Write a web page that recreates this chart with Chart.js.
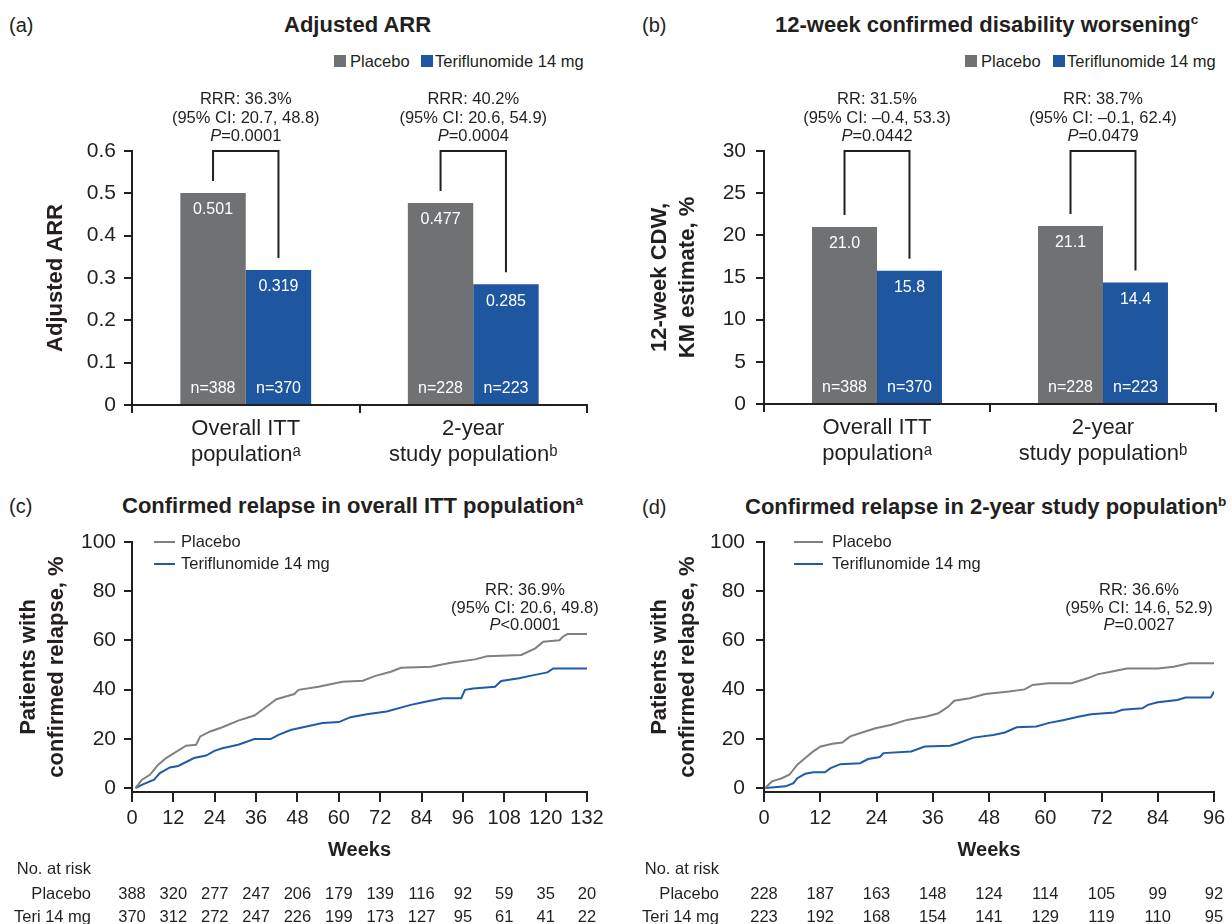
<!DOCTYPE html>
<html><head><meta charset="utf-8"><title>Teriflunomide efficacy outcomes</title>
<script src="https://cdn.jsdelivr.net/npm/chart.js@4.4.1/dist/chart.umd.min.js"></script>
<style>
html,body{margin:0;padding:0;background:#fff}
body{position:relative;width:1232px;height:924px;overflow:hidden;font-family:"Liberation Sans",Arial,Helvetica,sans-serif;color:#231f20}
canvas{position:absolute}
.txt{position:absolute;white-space:nowrap}
.pl{font-size:20px;line-height:28px}
.ttl{font-size:22px;font-weight:bold;line-height:28px}
.lg{font-size:16.5px;line-height:20px}
.sq{position:absolute;width:12px;height:12px}
sup{font-size:62%;vertical-align:0;position:relative;top:-0.6em}
</style></head>
<body>
<div class="txt pl" style="left:9px;top:11px">(a)</div>
<div class="txt ttl" style="left:284px;top:11px">Adjusted ARR</div>
<div class="sq" style="left:334px;top:55px;background:#707173"></div>
<div class="txt lg" style="left:350px;top:51px">Placebo</div>
<div class="sq" style="left:421px;top:55px;background:#1f56a0"></div>
<div class="txt lg" style="left:435px;top:51px">Teriflunomide 14 mg</div>

<div class="txt pl" style="left:642px;top:11px">(b)</div>
<div class="txt ttl" style="left:775px;top:11px">12-week confirmed disability worsening<sup>c</sup></div>
<div class="sq" style="left:965px;top:55px;background:#707173"></div>
<div class="txt lg" style="left:981px;top:51px">Placebo</div>
<div class="sq" style="left:1053px;top:55px;background:#1f56a0"></div>
<div class="txt lg" style="left:1067px;top:51px">Teriflunomide 14 mg</div>

<div class="txt pl" style="left:9px;top:492px">(c)</div>
<div class="txt ttl" style="left:122px;top:492px">Confirmed relapse in overall ITT population<sup>a</sup></div>
<div class="txt pl" style="left:642px;top:493px">(d)</div>
<div class="txt ttl" style="left:745px;top:493px">Confirmed relapse in 2-year study population<sup>b</sup></div>

<canvas id="cA" width="616" height="470" style="left:0;top:0"></canvas>
<canvas id="cB" width="616" height="470" style="left:616px;top:0"></canvas>
<canvas id="cC" width="616" height="454" style="left:0;top:470px"></canvas>
<canvas id="cD" width="616" height="454" style="left:616px;top:470px"></canvas>

<script>
// ---------------- data ----------------
const treatmentNames = ['Placebo', 'Teriflunomide 14 mg'];
const barGroups = [['Overall ITT', 'population\u1d43'], ['2-year', 'study population\u1d47']];
const nPlacebo = [388, 228];
const nTeri = [370, 223];

const arrPlacebo = [0.501, 0.477];
const arrTeri = [0.319, 0.285];
const arrTicks = [0, 0.1, 0.2, 0.3, 0.4, 0.5, 0.6];
const arrStats = [
  ['RRR: 36.3%', '(95% CI: 20.7, 48.8)', '=0.0001'],
  ['RRR: 40.2%', '(95% CI: 20.6, 54.9)', '=0.0004']
];

const cdwPlacebo = [21.0, 21.1];
const cdwTeri = [15.8, 14.4];
const cdwTicks = [0, 5, 10, 15, 20, 25, 30];
const cdwStats = [
  ['RR: 31.5%', '(95% CI: \u20130.4, 53.3)', '=0.0442'],
  ['RR: 38.7%', '(95% CI: \u20130.1, 62.4)', '=0.0479']
];

const pctTicks = [0, 20, 40, 60, 80, 100];

// (c) overall ITT population
const ittWeekTicks = [0, 12, 24, 36, 48, 60, 72, 84, 96, 108, 120, 132];
const ittPlaceboWeeks = [1, 2.9, 5.2, 7.6, 9.9, 12.2, 15.7, 18.6, 19.8, 22.7, 26.2, 30.8, 35.5, 37.8, 41.9, 47.1, 48.3, 54.1, 61.1, 67, 70.4, 75.1, 78, 86.7, 92.5, 99.5, 103, 112.9, 117, 119.3, 124, 125, 126.3, 132];
const ittPlaceboPct = [0, 3.4, 5.4, 9.5, 12.2, 14.2, 17.2, 17.6, 21, 23, 24.7, 27.4, 29.5, 31.8, 36.1, 38.2, 39.9, 41.2, 43.2, 43.6, 45.5, 47.3, 48.9, 49.3, 50.9, 52.3, 53.6, 54.1, 56.8, 59.5, 60.1, 61.5, 62.6, 62.6];
const ittTeriWeeks = [1, 3, 6.4, 8.1, 11, 13.4, 18, 21.5, 23.9, 26.2, 30.8, 35.5, 40.2, 42.5, 46, 50.6, 55.3, 60, 63.4, 68.1, 73.9, 80.9, 84.4, 90.2, 95.5, 96.6, 99, 105.3, 107.1, 112.3, 115.8, 120.5, 122.2, 132];
const ittTeriPct = [0, 1.4, 3.4, 6.1, 8.4, 9, 12.2, 13.2, 15.1, 16.2, 17.6, 19.9, 19.9, 21.6, 23.6, 25, 26.4, 26.8, 28.8, 30, 31.1, 33.8, 34.9, 36.5, 36.5, 39.9, 40.5, 41.2, 43.5, 44.6, 45.7, 47, 48.6, 48.6];
const ittRiskPlacebo = [388, 320, 277, 247, 206, 179, 139, 116, 92, 59, 35, 20];
const ittRiskTeri = [370, 312, 272, 247, 226, 199, 173, 127, 95, 61, 41, 22];
const ittStats = ['RR: 36.9%', '(95% CI: 20.6, 49.8)', '<0.0001'];

// (d) 2-year study population
const twoWeekTicks = [0, 12, 24, 36, 48, 60, 72, 84, 96];
const twoPlaceboWeeks = [0.25, 1.7, 3.8, 5.4, 7.1, 8.8, 10.5, 12.1, 14.6, 16.7, 18.4, 20.9, 23.8, 27.2, 30.5, 34.7, 37.2, 39.3, 40.6, 43.9, 47.2, 52.3, 55.6, 57.3, 60.6, 65.6, 69, 71.1, 74, 77.4, 84, 87.4, 90.7, 96];
const twoPlaceboPct = [0, 2.7, 4, 5.4, 9.5, 12.2, 14.9, 16.9, 18, 18.5, 21, 22.6, 24.3, 25.7, 27.7, 29.1, 30.4, 33.1, 35.5, 36.5, 38.2, 39.2, 40.1, 41.9, 42.6, 42.6, 44.6, 46.2, 47.3, 48.6, 48.6, 49.3, 50.7, 50.7];
const twoTeriWeeks = [0.25, 4.6, 6.3, 7.1, 8.8, 10.5, 13, 14.2, 16.3, 20.5, 22.2, 24.7, 25.5, 31.4, 34.3, 39.7, 41.4, 44.7, 48.9, 51.4, 53.9, 58.1, 60.6, 64, 67.3, 69.8, 74.8, 76.5, 80.7, 81.9, 84, 88.2, 89.9, 95.3, 96];
const twoTeriPct = [0, 0.7, 2, 4, 5.8, 6.4, 6.4, 8.1, 9.7, 10.1, 11.8, 12.6, 14.2, 14.9, 16.9, 17.2, 18.2, 20.5, 21.6, 22.6, 24.7, 25, 26.4, 27.7, 29.1, 30, 30.7, 31.8, 32.4, 33.8, 34.9, 35.8, 36.8, 36.8, 39.2];
const twoRiskPlacebo = [228, 187, 163, 148, 124, 114, 105, 99, 92];
const twoRiskTeri = [223, 192, 168, 154, 141, 129, 119, 110, 95];
const twoStats = ['RR: 36.6%', '(95% CI: 14.6, 52.9)', '=0.0027'];

const riskRowNames = ['Placebo', 'Teri 14 mg'];

// ---------------- styling ----------------
const FF = '"Liberation Sans", Arial, Helvetica, sans-serif';
const AX = '#231f20';
const BAR_PLA = '#707173', BAR_TERI = '#1f56a0';
const LINE_PLA = '#808080', LINE_TERI = '#1f5aab';
Chart.defaults.font.family = FF;
Chart.defaults.color = AX;

function drawP(ctx, rest, cx, y, size) {
  ctx.save();
  const fi = 'italic ' + size + 'px ' + FF, fn = size + 'px ' + FF;
  ctx.font = fi; const wp = ctx.measureText('P').width;
  ctx.font = fn; const wr = ctx.measureText(rest).width;
  const x0 = cx - (wp + wr) / 2;
  ctx.textAlign = 'left';
  ctx.font = fi; ctx.fillText('P', x0, y);
  ctx.font = fn; ctx.fillText(rest, x0 + wp, y);
  ctx.restore();
}

const barDecor = {
  id: 'barDecor',
  afterDatasetsDraw(chart, args, o) {
    const ctx = chart.ctx, y = chart.scales.y;
    const metas = [chart.getDatasetMeta(0), chart.getDatasetMeta(1)];
    ctx.save();
    ctx.textAlign = 'center'; ctx.textBaseline = 'middle';
    ctx.fillStyle = '#ffffff';
    ctx.font = '16px ' + FF;
    metas.forEach((m, di) => {
      const ds = chart.data.datasets[di];
      m.data.forEach((bar, i) => {
        ctx.fillText(o.fmt(ds.data[i]), bar.x, bar.y + 17);
        ctx.fillText('n=' + ds.n[i], bar.x, bar.base - 15);
      });
    });
    const top = y.getPixelForValue(y.max);
    ctx.strokeStyle = AX; ctx.lineWidth = 2; ctx.lineJoin = 'miter';
    ctx.fillStyle = AX; ctx.font = '16.5px ' + FF;
    metas[0].data.forEach((b0, i) => {
      const b1 = metas[1].data[i];
      ctx.beginPath();
      ctx.moveTo(b0.x, b0.y - 12);
      ctx.lineTo(b0.x, top);
      ctx.lineTo(b1.x, top);
      ctx.lineTo(b1.x, b1.y - 12);
      ctx.stroke();
      const cx = (b0.x + b1.x) / 2;
      ctx.fillText(o.stats[i][0], cx, top - 52);
      ctx.fillText(o.stats[i][1], cx, top - 33);
      drawP(ctx, o.stats[i][2], cx, top - 15, 16.5);
    });
    ctx.restore();
  }
};

function barChart(id, placebo, teri, ticksArr, yMax, yTitle, titlePad, tickPad, fmt, stats, area) {
  const W = 616, H = 470;
  return new Chart(document.getElementById(id), {
    type: 'bar',
    data: {
      labels: barGroups,
      datasets: [
        {label: treatmentNames[0], data: placebo, n: nPlacebo, backgroundColor: BAR_PLA, borderWidth: 0, categoryPercentage: 0.575, barPercentage: 1},
        {label: treatmentNames[1], data: teri, n: nTeri, backgroundColor: BAR_TERI, borderWidth: 0, categoryPercentage: 0.575, barPercentage: 1}
      ]
    },
    options: {
      responsive: false, animation: false, events: [],
      layout: {padding: {left: 0, top: area.top, right: W - area.right, bottom: 0}},
      plugins: {legend: {display: false}, tooltip: {enabled: false}, barDecor: {fmt: fmt, stats: stats}},
      scales: {
        x: {
          grid: {offset: true, drawOnChartArea: false, tickLength: 8, color: AX, lineWidth: 2},
          border: {color: AX, width: 2},
          ticks: {font: {size: 22, lineHeight: 1.18}, padding: 3, color: AX, maxRotation: 0, autoSkip: false},
          afterFit(s) { s.height = H - area.bottom; }
        },
        y: {
          min: 0, max: yMax,
          afterBuildTicks(s) { s.ticks = ticksArr.map(v => ({value: v})); },
          grid: {drawOnChartArea: false, tickLength: 8, color: AX, lineWidth: 2},
          border: {color: AX, width: 2},
          ticks: {font: {size: 21}, padding: tickPad, color: AX},
          title: {display: true, text: yTitle, color: AX, font: {size: 22, weight: 'bold', lineHeight: 1.27}, padding: {top: titlePad, bottom: 0}},
          afterFit(s) { s.width = area.left; }
        }
      }
    },
    plugins: [barDecor]
  });
}

const kmDecor = {
  id: 'kmDecor',
  afterDraw(chart, args, o) {
    const {ctx, chartArea: ca, scales: {x, y}} = chart;
    ctx.save();
    ctx.font = '16.5px ' + FF; ctx.fillStyle = AX; ctx.textBaseline = 'middle';
    chart.data.datasets.forEach((ds, i) => {
      const ly = y.getPixelForValue(100) + i * 22;
      ctx.strokeStyle = ds.borderColor; ctx.lineWidth = 2;
      ctx.beginPath(); ctx.moveTo(ca.left + o.legX0, ly); ctx.lineTo(ca.left + o.legX1, ly); ctx.stroke();
      ctx.textAlign = 'left';
      ctx.fillText(ds.label, ca.left + o.legText, ly);
    });
    const cx = x.getPixelForValue(o.statWeek), sy = y.getPixelForValue(o.statPct);
    ctx.textAlign = 'center';
    ctx.fillText(o.stats[0], cx, sy);
    ctx.fillText(o.stats[1], cx, sy + 18);
    drawP(ctx, o.stats[2], cx, sy + 35, 16.5);
    // number at risk table
    ctx.textAlign = 'right';
    ctx.fillText('No. at risk', o.riskLabelX, o.riskY[0]);
    riskRowNames.forEach((nm, r) => ctx.fillText(nm, o.riskLabelX, o.riskY[r + 1]));
    ctx.textAlign = 'center';
    o.risk.forEach((row, r) => {
      row.forEach((v, k) => ctx.fillText(String(v), x.getPixelForValue(o.weeks[k]), o.riskY[r + 1]));
    });
    ctx.restore();
  }
};

function pts(w, v) { return w.map((wk, i) => ({x: wk, y: v[i]})); }

function kmChart(id, plaW, plaV, teriW, teriV, maxW, weekTicks, risk, stats, area, deco) {
  const W = 616, H = 454, XH = 80;
  return new Chart(document.getElementById(id), {
    type: 'line',
    data: {
      datasets: [
        {label: treatmentNames[0], data: pts(plaW, plaV), borderColor: LINE_PLA, borderWidth: 2, pointRadius: 0, tension: 0, fill: false},
        {label: treatmentNames[1], data: pts(teriW, teriV), borderColor: LINE_TERI, borderWidth: 2, pointRadius: 0, tension: 0, fill: false}
      ]
    },
    options: {
      responsive: false, animation: false, events: [],
      layout: {padding: {left: 0, top: area.top, right: W - area.right, bottom: H - area.bottom - XH}},
      plugins: {legend: {display: false}, tooltip: {enabled: false},
        kmDecor: Object.assign({stats: stats, risk: risk, weeks: weekTicks}, deco)},
      scales: {
        x: {
          type: 'linear', min: 0, max: maxW,
          afterBuildTicks(s) { s.ticks = weekTicks.map(v => ({value: v})); },
          grid: {drawOnChartArea: false, tickLength: 10, color: AX, lineWidth: 2},
          border: {color: AX, width: 2},
          ticks: {font: {size: 20}, padding: 4, color: AX, maxRotation: 0, autoSkip: false},
          title: {display: true, text: 'Weeks', color: AX, font: {size: 20, weight: 'bold'}, padding: {top: 0, bottom: 10}},
          afterFit(s) { s.height = XH; }
        },
        y: {
          min: -1.6, max: 100,
          afterBuildTicks(s) { s.ticks = pctTicks.map(v => ({value: v})); },
          grid: {drawOnChartArea: false, tickLength: 8, color: AX, lineWidth: 2},
          border: {color: AX, width: 2},
          ticks: {font: {size: 21}, padding: deco.tickPad, color: AX},
          title: {display: true, text: ['Patients with', 'confirmed relapse, %'], color: AX,
                  font: {size: 22, weight: 'bold', lineHeight: 1.27}, padding: {top: deco.titlePad, bottom: 0}},
          afterFit(s) { s.width = area.left; }
        }
      }
    },
    plugins: [kmDecor]
  });
}

barChart('cA', arrPlacebo, arrTeri, arrTicks, 0.6, 'Adjusted ARR', 42, 8,
  v => v.toFixed(3), arrStats, {left: 132, right: 587, top: 151, bottom: 405});
barChart('cB', cdwPlacebo, cdwTeri, cdwTicks, 30, ['12-week CDW,', 'KM estimate, %'], 30, 10,
  v => v.toFixed(1), cdwStats, {left: 148, right: 600, top: 151, bottom: 404});

kmChart('cC', ittPlaceboWeeks, ittPlaceboPct, ittTeriWeeks, ittTeriPct, 132, ittWeekTicks,
  [ittRiskPlacebo, ittRiskTeri], ittStats, {left: 132, right: 587, top: 72, bottom: 322},
  {legX0: 22, legX1: 43, legText: 49, statWeek: 114, statPct: 80.5, riskLabelX: 91, riskY: [399, 424, 447], tickPad: 8, titlePad: 15});
kmChart('cD', twoPlaceboWeeks, twoPlaceboPct, twoTeriWeeks, twoTeriPct, 96, twoWeekTicks,
  [twoRiskPlacebo, twoRiskTeri], twoStats, {left: 148, right: 598, top: 72, bottom: 322},
  {legX0: 30, legX1: 59, legText: 68, statWeek: 80, statPct: 80.5, riskLabelX: 103, riskY: [399, 424, 447], tickPad: 11, titlePad: 30});
</script>
</body></html>
